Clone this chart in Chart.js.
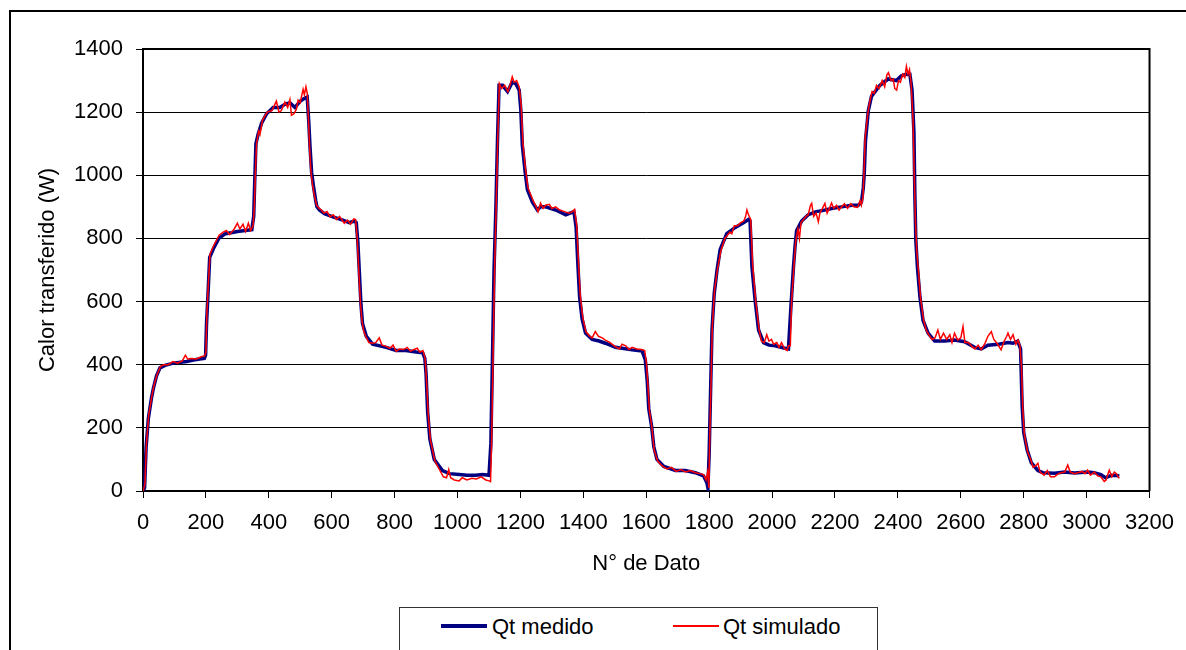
<!DOCTYPE html>
<html>
<head>
<meta charset="utf-8">
<script src="https://cdn.jsdelivr.net/npm/chart.js@4.4.1/dist/chart.umd.min.js"></script>
<style>
  body { margin: 0; background: #fff; }
  #wrap { position: relative; width: 1186px; height: 650px; overflow: hidden; }
  #legendBox {
    position: absolute; left: 399px; top: 607px; width: 479px; height: 60px;
    border: 1px solid #333; box-sizing: border-box; background: #fff;
    font-family: 'Liberation Sans', Arial, sans-serif; font-size: 22px; color: #000;
  }
  .item { position: absolute; top: 6px; height: 26px; line-height: 26px; }
  .swatch { position: absolute; }
</style>
</head>
<body>
<div id="wrap">
  <canvas id="chart" width="1186" height="650"></canvas>
  <div id="legendBox"></div>
</div>
<script>
// Qt medido (blue) - [N° de dato, W]
const qtMedido = [
  [0,0],[5,10],[10,140],[17,230],[27,295],[33,325],[43,365],[54,390],[70,398],[96,405],[120,408],[139,410],[160,415],[180,418],[195,420],
  [199,430],[202,530],[207,630],[212,740],[225,770],[241,800],[262,815],[280,818],[300,822],[325,825],[346,828],
  [352,870],[355,975],[359,1100],[366,1130],[377,1165],[393,1195],[414,1215],[435,1215],[451,1225],[467,1230],[483,1215],[500,1235],[515,1245],[522,1248],
  [527,1170],[531,1090],[536,1010],[542,965],[549,920],[553,900],[561,890],[577,878],[604,868],[635,858],[656,850],[672,855],[678,850],
  [683,790],[688,690],[693,590],[698,530],[710,490],[730,465],[773,455],[805,445],[836,445],[868,440],[889,438],
  [896,420],[900,370],[905,250],[912,165],[926,100],[952,65],[974,55],[1005,52],[1030,50],[1058,50],[1080,52],[1100,50],
  [1106,150],[1111,420],[1116,700],[1122,900],[1127,1110],[1132,1285],[1143,1285],[1159,1265],[1174,1295],[1185,1290],[1196,1270],
  [1201,1210],[1206,1095],[1215,1010],[1222,955],[1238,915],[1254,890],[1264,900],[1280,900],[1312,890],[1344,875],[1370,885],
  [1377,835],[1383,710],[1388,615],[1396,545],[1407,500],[1428,480],[1450,475],[1470,468],[1502,455],[1523,452],[1555,447],[1587,443],
  [1597,415],[1603,350],[1608,260],[1617,205],[1624,140],[1634,100],[1656,78],[1693,65],[1724,65],[1756,58],[1782,48],[1793,25],[1796,10],
  [1800,120],[1805,340],[1809,510],[1816,625],[1825,700],[1835,765],[1856,815],[1883,835],[1909,850],[1925,860],[1930,855],
  [1936,710],[1946,605],[1957,510],[1973,470],[1990,462],[2010,460],[2041,452],[2052,450],
  [2060,585],[2068,710],[2073,775],[2078,825],[2094,855],[2115,875],[2140,885],[2160,888],[2189,895],[2221,900],[2253,905],[2274,905],[2284,915],
  [2290,960],[2293,1005],[2297,1110],[2306,1205],[2316,1250],[2343,1285],[2369,1305],[2395,1300],[2411,1315],[2427,1320],[2438,1320],
  [2445,1270],[2451,1135],[2454,935],[2457,795],[2462,710],[2470,615],[2480,540],[2496,500],[2517,475],[2549,475],[2580,478],[2612,473],
  [2644,455],[2665,450],[2686,462],[2720,465],[2750,470],[2766,468],[2781,475],[2790,450],
  [2795,270],[2800,185],[2811,130],[2824,90],[2845,65],[2861,58],[2898,56],[2930,60],[2961,57],[3003,60],[3024,58],[3045,52],[3060,42],[3080,50],[3104,48]
];

// Qt simulado (red) - [N° de dato, W]
const qtSimulado = [
  [0,0],[6,20],[11,150],[18,240],[28,300],[35,335],[45,370],[56,395],[66,400],[80,400],[95,410],[110,405],[125,412],[135,430],[142,418],
  [155,420],[170,418],[185,425],[196,428],[200,440],[203,560],[208,660],[213,750],[226,780],[242,810],[255,820],[265,825],[275,812],
  [290,830],[300,848],[308,830],[318,845],[326,822],[335,848],[342,825],[350,840],[354,900],[357,1000],[361,1100],[368,1140],[372,1130],
  [380,1175],[395,1200],[410,1205],[424,1235],[432,1200],[440,1205],[451,1232],[460,1215],[467,1240],[472,1190],[480,1195],[488,1210],
  [493,1238],[500,1230],[504,1250],[509,1272],[513,1255],[518,1280],[522,1260],[526,1180],[530,1080],[534,1010],[539,970],[545,935],
  [552,905],[560,895],[567,890],[575,880],[585,885],[595,868],[605,875],[615,860],[625,870],[640,848],[650,858],[660,845],[670,862],
  [676,860],[681,800],[686,700],[691,600],[696,540],[702,505],[708,490],[718,470],[730,468],[740,470],[751,485],[760,462],[773,458],
  [785,452],[795,462],[805,442],[815,450],[828,448],[840,455],[850,443],[862,448],[872,452],[880,440],[890,445],[897,420],[902,340],
  [907,240],[914,160],[928,95],[940,72],[955,45],[965,42],[972,68],[978,42],[990,35],[1005,32],[1015,42],[1030,35],[1045,40],[1060,38],
  [1075,45],[1090,35],[1100,32],[1105,30],[1108,140],[1113,430],[1118,710],[1123,910],[1128,1120],[1133,1290],[1140,1275],[1150,1285],
  [1160,1265],[1168,1290],[1174,1312],[1180,1295],[1188,1300],[1196,1280],[1202,1225],[1208,1100],[1216,1020],[1224,960],[1240,920],
  [1248,905],[1256,885],[1264,912],[1272,895],[1280,905],[1292,908],[1300,895],[1312,900],[1325,890],[1340,885],[1355,880],[1365,885],
  [1372,892],[1379,840],[1385,715],[1390,620],[1398,550],[1408,505],[1420,490],[1428,485],[1438,505],[1448,490],[1460,485],[1470,478],
  [1485,470],[1500,458],[1515,450],[1523,465],[1535,460],[1545,448],[1555,455],[1570,450],[1585,448],[1595,445],[1600,410],[1605,340],
  [1610,255],[1618,200],[1625,130],[1636,95],[1650,80],[1665,70],[1680,75],[1695,62],[1710,68],[1725,60],[1740,65],[1756,58],[1770,55],
  [1782,52],[1790,35],[1795,60],[1799,10],[1801,130],[1806,350],[1810,520],[1817,635],[1826,700],[1837,760],[1850,800],[1858,810],
  [1866,820],[1872,815],[1880,840],[1890,840],[1900,850],[1910,855],[1916,870],[1920,890],[1925,875],[1932,860],[1938,720],[1948,600],
  [1959,510],[1966,475],[1975,470],[1983,495],[1990,475],[1998,480],[2005,465],[2015,470],[2022,455],[2030,470],[2040,450],[2048,445],
  [2052,460],[2058,460],[2062,600],[2070,720],[2075,790],[2082,830],[2087,800],[2092,850],[2100,860],[2108,870],[2115,875],[2122,905],
  [2126,911],[2132,870],[2140,880],[2147,853],[2152,880],[2160,895],[2168,911],[2175,880],[2182,895],[2189,912],[2196,895],[2205,905],
  [2213,890],[2221,900],[2230,910],[2240,895],[2250,910],[2260,900],[2272,898],[2280,920],[2284,905],[2289,930],[2292,1000],[2296,1120],
  [2305,1200],[2312,1240],[2318,1265],[2325,1260],[2332,1285],[2340,1275],[2350,1300],[2358,1280],[2365,1318],[2370,1325],[2378,1300],
  [2385,1305],[2390,1275],[2396,1270],[2402,1300],[2408,1295],[2415,1320],[2422,1310],[2427,1345],[2432,1320],[2437,1335],[2442,1290],
  [2448,1180],[2452,1000],[2456,850],[2460,760],[2466,690],[2472,610],[2482,540],[2490,510],[2498,495],[2508,480],[2518,485],[2527,510],
  [2535,480],[2545,500],[2555,480],[2565,495],[2572,470],[2580,500],[2590,478],[2600,485],[2607,521],[2613,470],[2625,470],[2635,458],
  [2645,450],[2655,462],[2665,448],[2678,470],[2686,490],[2697,505],[2705,480],[2715,468],[2728,447],[2738,475],[2746,490],[2750,500],
  [2758,480],[2766,495],[2775,465],[2782,478],[2788,460],[2793,390],[2797,260],[2802,180],[2812,125],[2822,100],[2830,75],[2838,80],
  [2845,88],[2852,60],[2865,50],[2875,65],[2885,45],[2898,45],[2910,55],[2920,58],[2930,60],[2940,82],[2948,60],[2961,55],[2972,58],
  [2985,62],[2995,55],[3003,66],[3012,50],[3024,60],[3035,48],[3045,45],[3056,30],[3062,35],[3068,55],[3072,66],[3080,45],[3088,60],
  [3095,55],[3100,45],[3104,40]
];

const seriesNames = ['Qt medido', 'Qt simulado'];
const seriesColors = ['#000080', '#ff0000'];
const seriesWidths = [3.5, 1.5];

const xMin = 0, xMax = 3200, xStep = 200;
const yMin = 0, yMax = 1400, yStep = 200;

const FONT = "'Liberation Sans', Arial, sans-serif";

// plot-area frame (top/right) and outer chart border, Excel style
const framePlugin = {
  id: 'frame',
  beforeDraw(chart) {
    const c = chart.ctx;
    c.save();
    c.strokeStyle = '#000';
    c.lineWidth = 2;
    c.strokeRect(10, 11, 1300, 800);
    c.restore();
  },
  afterDatasetsDraw(chart) {
    const { ctx: c, chartArea: a } = chart;
    c.save();
    c.strokeStyle = '#000';
    c.lineWidth = 2;
    c.beginPath();
    c.moveTo(a.left, a.top);
    c.lineTo(a.right, a.top);
    c.lineTo(a.right, a.bottom);
    c.stroke();
    c.restore();
  }
};

const ctx = document.getElementById('chart').getContext('2d');

const chart = new Chart(ctx, {
  type: 'line',
  data: {
    datasets: [
      {
        label: seriesNames[0],
        data: qtMedido.map(p => ({ x: p[0], y: p[1] })),
        borderColor: seriesColors[0],
        borderWidth: seriesWidths[0],
        pointRadius: 0,
        tension: 0,
        order: 2
      },
      {
        label: seriesNames[1],
        data: qtSimulado.map(p => ({ x: p[0], y: p[1] })),
        borderColor: seriesColors[1],
        borderWidth: seriesWidths[1],
        pointRadius: 0,
        tension: 0,
        order: 1
      }
    ]
  },
  options: {
    responsive: false,
    animation: false,
    layout: { padding: { left: 0, top: 49, right: 34, bottom: 59 } },
    plugins: {
      legend: { display: false },
      tooltip: { enabled: false }
    },
    scales: {
      x: {
        type: 'linear',
        min: xMin,
        max: xMax,
        ticks: {
          stepSize: xStep,
          color: '#000',
          padding: 12,
          maxRotation: 0,
          font: { family: FONT, size: 22 },
          callback: v => String(v)
        },
        grid: { drawOnChartArea: false, drawTicks: true, tickLength: 7, color: '#000', lineWidth: 1 },
        border: { display: true, color: '#000', width: 2 },
        title: {
          display: true,
          text: 'N° de Dato',
          color: '#000',
          font: { family: FONT, size: 22 },
          padding: { top: 0, bottom: 14 }
        },
        afterFit(scale) { scale.height = 100; }
      },
      y: {
        min: yMin,
        max: yMax,
        ticks: {
          stepSize: yStep,
          color: '#000',
          padding: 13,
          font: { family: FONT, size: 22 },
          callback: v => String(v)
        },
        grid: { color: '#000', lineWidth: 1, tickLength: 7 },
        border: { display: true, color: '#000', width: 2 },
        title: {
          display: true,
          text: 'Calor transferido (W)',
          color: '#000',
          font: { family: FONT, size: 22 },
          padding: { top: 35, bottom: 0 }
        },
        afterFit(scale) { scale.width = 143; }
      }
    }
  },
  plugins: [framePlugin]
});

// legend box, built from the same names and colours
const legendBox = document.getElementById('legendBox');
const itemPos = [{ line: 41, text: 92, h: 4 }, { line: 273, text: 323, h: 2 }];
seriesNames.forEach((name, i) => {
  const sw = document.createElement('div');
  sw.className = 'swatch';
  sw.style.left = itemPos[i].line + 'px';
  sw.style.width = '46px';
  sw.style.height = itemPos[i].h + 'px';
  sw.style.top = (18 - itemPos[i].h / 2) + 'px';
  sw.style.background = seriesColors[i];
  legendBox.appendChild(sw);
  const t = document.createElement('div');
  t.className = 'item';
  t.style.left = itemPos[i].text + 'px';
  t.textContent = name;
  legendBox.appendChild(t);
});
</script>
</body>
</html>
